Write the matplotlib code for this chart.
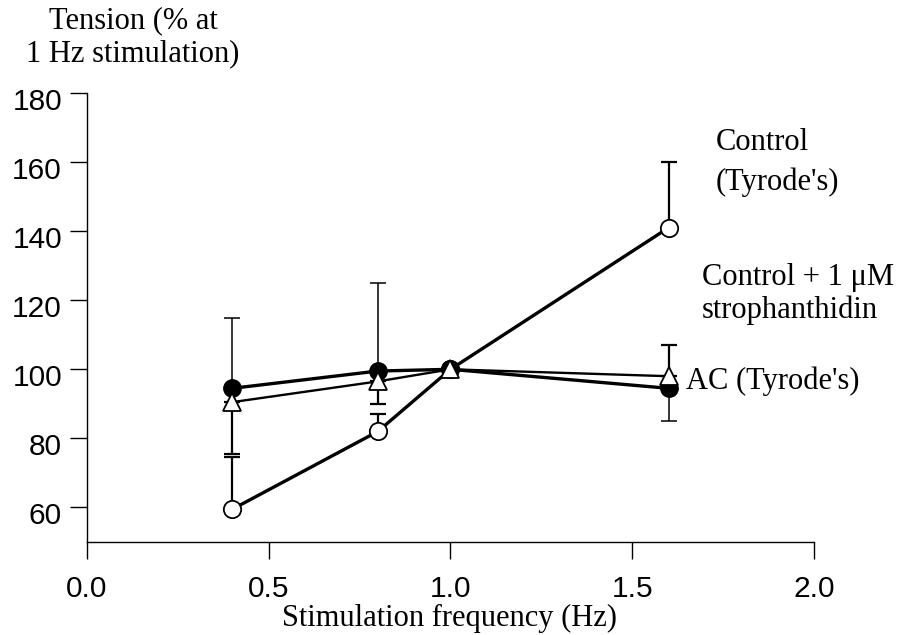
import matplotlib
matplotlib.use("Agg")
import matplotlib.pyplot as plt
from matplotlib.transforms import ScaledTranslation

# stimulation frequencies (Hz)
freq = [0.4, 0.8, 1.0, 1.6]

# tension, % of value at 1 Hz
control = [59.5, 82, 100, 141]
control_lo = [0, 0, 0, 0]
control_hi = [15, 5, 0, 19]

stroph = [94.5, 99.5, 100, 94.5]
stroph_lo = [0, 0, 0, 9.5]
stroph_hi = [20.5, 25.5, 0, 0]

ac = [90.5, 96.5, 100, 98]
ac_lo = [15, 6.5, 0, 0]
ac_hi = [0, 0, 0, 9]

xticks = [0.0, 0.5, 1.0, 1.5, 2.0]
yticks = [60, 80, 100, 120, 140, 160, 180]

W, H = 903, 635
serif = "Liberation Serif"
sans = "Liberation Sans"

fig = plt.figure(figsize=(W / 100, H / 100), dpi=100)
ax = fig.add_axes([87 / W, 1 - 542 / H, (814 - 87) / W, (542 - 93) / H])

ax.errorbar(freq, stroph, yerr=[stroph_lo, stroph_hi], fmt="none", ecolor="black",
            elinewidth=1.1, capsize=6, capthick=1.1, zorder=2)
ax.errorbar(freq, ac, yerr=[ac_lo, ac_hi], fmt="none", ecolor="black",
            elinewidth=1.6, capsize=6, capthick=1.6, zorder=2)
ax.errorbar(freq, control, yerr=[control_lo, control_hi], fmt="none", ecolor="black",
            elinewidth=1.6, capsize=6, capthick=1.6, zorder=2)

ax.plot(freq, stroph, color="black", lw=2.4, marker="o", ms=12.5,
        mfc="black", mec="black", zorder=4)
ax.plot(freq, ac, color="black", lw=1.7, marker="^", ms=12.5,
        mfc="white", mec="black", mew=1.3, zorder=5)
ax.plot(freq, control, color="black", lw=2.4, marker="o", ms=12.5,
        mfc="white", mec="black", mew=1.3, zorder=3)

ax.set_xlim(0, 2.0)
ax.set_ylim(50, 180)
ax.set_xticks(xticks)
ax.set_xticklabels([f"{t:.1f}" for t in xticks], fontfamily=sans, fontsize=21.5)
ax.set_yticks(yticks)
ax.set_yticklabels([str(t) for t in yticks], fontfamily=sans, fontsize=21.5)
ax.tick_params(axis="x", direction="out", length=12, width=1, pad=12)
ax.tick_params(axis="y", direction="out", length=12, width=1, pad=6)

# y labels sit a little below their ticks
shift = ScaledTranslation(0, -4 / 72, fig.dpi_scale_trans)
for lab in ax.get_yticklabels():
    lab.set_transform(lab.get_transform() + shift)

for side in ("top", "right"):
    ax.spines[side].set_visible(False)
ax.spines["left"].set_linewidth(1)
ax.spines["bottom"].set_linewidth(1)
ax.patch.set_alpha(0)


def ptext(x, y, s, **kw):
    fig.text(x / W, 1 - y / H, s, fontfamily=serif, fontsize=22, va="center", **kw)


ptext(133, 21, "Tension (% at", ha="center")
ptext(133, 54, "1 Hz stimulation)", ha="center")
ptext(450, 618, "Stimulation frequency (Hz)", ha="center")

ptext(716, 143, "Control")
ptext(716, 182, "(Tyrode's)")
ptext(702, 278, "Control + 1 \u03bcM")
ptext(702, 310, "strophanthidin")
ptext(686, 381, "AC (Tyrode's)")

fig.savefig("out.png", dpi=100)
